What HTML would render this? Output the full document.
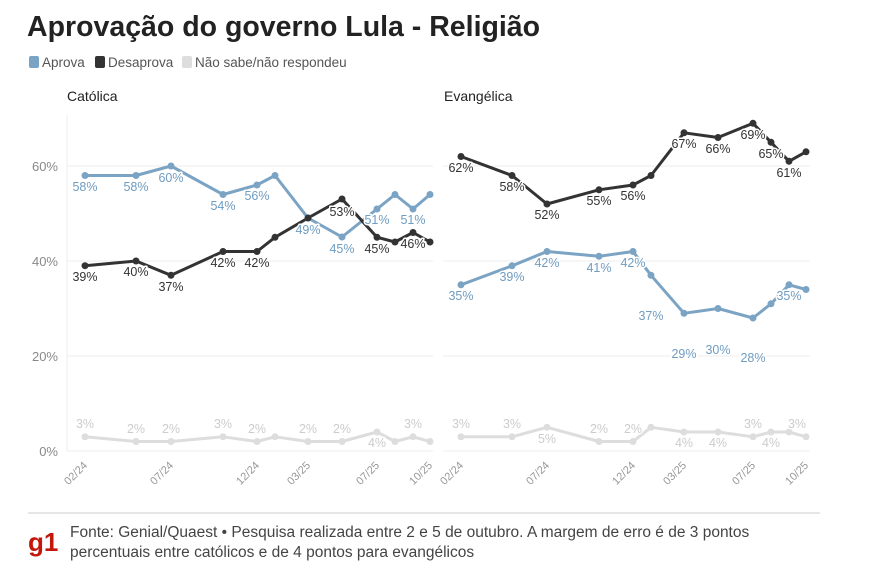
<!DOCTYPE html><html><head><meta charset="utf-8"><style>
body{margin:0;width:874px;height:580px;background:#fff;font-family:"Liberation Sans",sans-serif;overflow:hidden}
.h text{paint-order:stroke;stroke:#fff;stroke-width:3px;stroke-linejoin:round}
</style></head><body>
<svg width="874" height="580" xmlns="http://www.w3.org/2000/svg" font-family="Liberation Sans, sans-serif">
<text x="27" y="36" font-size="28.5" font-weight="bold" fill="#222">Aprovação do governo Lula - Religião</text>
<rect x="29" y="56" width="10" height="12" rx="2" fill="#7ba3c4"/><text x="42" y="67" font-size="13.5" fill="#555">Aprova</text>
<rect x="95" y="56" width="10" height="12" rx="2" fill="#333"/><text x="108" y="67" font-size="13.5" fill="#555">Desaprova</text>
<rect x="182" y="56" width="10" height="12" rx="2" fill="#ddd"/><text x="195" y="67" font-size="13.5" fill="#555">Não sabe/não respondeu</text>
<text x="67" y="101" font-size="14" fill="#222">Católica</text>
<text x="444" y="101" font-size="14" fill="#222">Evangélica</text>
<g stroke="#eee" stroke-width="1">
<line x1="67" y1="166" x2="433" y2="166"/><line x1="67" y1="261" x2="433" y2="261"/><line x1="67" y1="356" x2="433" y2="356"/><line x1="67" y1="451" x2="433" y2="451"/><line x1="67" y1="115" x2="67" y2="451"/>
<line x1="443" y1="166" x2="810" y2="166"/><line x1="443" y1="261" x2="810" y2="261"/><line x1="443" y1="356" x2="810" y2="356"/><line x1="443" y1="451" x2="810" y2="451"/>
</g>
<g font-size="13" fill="#888" text-anchor="end"><text x="58" y="171">60%</text><text x="58" y="266">40%</text><text x="58" y="361">20%</text><text x="58" y="456">0%</text></g>
<g font-size="11" fill="#999">
<text transform="translate(88,466) rotate(-45)" text-anchor="end">02/24</text>
<text transform="translate(174,466) rotate(-45)" text-anchor="end">07/24</text>
<text transform="translate(260,466) rotate(-45)" text-anchor="end">12/24</text>
<text transform="translate(311,466) rotate(-45)" text-anchor="end">03/25</text>
<text transform="translate(380,466) rotate(-45)" text-anchor="end">07/25</text>
<text transform="translate(433,466) rotate(-45)" text-anchor="end">10/25</text>
<text transform="translate(464,466) rotate(-45)" text-anchor="end">02/24</text>
<text transform="translate(550,466) rotate(-45)" text-anchor="end">07/24</text>
<text transform="translate(636,466) rotate(-45)" text-anchor="end">12/24</text>
<text transform="translate(687,466) rotate(-45)" text-anchor="end">03/25</text>
<text transform="translate(756,466) rotate(-45)" text-anchor="end">07/25</text>
<text transform="translate(809,466) rotate(-45)" text-anchor="end">10/25</text>
</g>
<g fill="none" stroke-width="3" stroke-linejoin="round">
<polyline stroke="#7ba3c4" points="85,175.5 136,175.5 171,166 223,194.5 257,185 275,175.5 308,218 342,237 377,209 395,194.5 413,209 430,194.5"/>
<polyline stroke="#333" points="85,265.7 136,261 171,275.3 223,251.5 257,251.5 275,237.3 308,218 342,199 377,237.3 395,242 413,232.5 430,242"/>
<polyline stroke="#ddd" points="85,436.8 136,441.5 171,441.5 223,436.8 257,441.5 275,436.8 308,441.5 342,441.5 377,432 395,441.5 413,436.8 430,441.5"/>
<polyline stroke="#7ba3c4" points="461,284.8 512,265.8 547,251.5 599,256.3 633,251.5 651,275.3 684,313.3 718,308.5 753,318 771,303.8 789,284.8 806,289.5"/>
<polyline stroke="#333" points="461,156.5 512,175.5 547,204 599,189.8 633,185 651,175.5 684,132.8 718,137.5 753,123.3 771,142.3 789,161.3 806,151.8"/>
<polyline stroke="#ddd" points="461,436.8 512,436.8 547,427.3 599,441.5 633,441.5 651,427.3 684,432 718,432 753,436.8 771,432 789,432 806,436.8"/>
</g>
<g fill="#7ba3c4"><circle cx="85" cy="175.5" r="3.5"/><circle cx="136" cy="175.5" r="3.5"/><circle cx="171" cy="166" r="3.5"/><circle cx="223" cy="194.5" r="3.5"/><circle cx="257" cy="185" r="3.5"/><circle cx="275" cy="175.5" r="3.5"/><circle cx="308" cy="218" r="3.5"/><circle cx="342" cy="237" r="3.5"/><circle cx="377" cy="209" r="3.5"/><circle cx="395" cy="194.5" r="3.5"/><circle cx="413" cy="209" r="3.5"/><circle cx="430" cy="194.5" r="3.5"/>
<circle cx="461" cy="284.8" r="3.5"/><circle cx="512" cy="265.8" r="3.5"/><circle cx="547" cy="251.5" r="3.5"/><circle cx="599" cy="256.3" r="3.5"/><circle cx="633" cy="251.5" r="3.5"/><circle cx="651" cy="275.3" r="3.5"/><circle cx="684" cy="313.3" r="3.5"/><circle cx="718" cy="308.5" r="3.5"/><circle cx="753" cy="318" r="3.5"/><circle cx="771" cy="303.8" r="3.5"/><circle cx="789" cy="284.8" r="3.5"/><circle cx="806" cy="289.5" r="3.5"/></g>
<g fill="#333"><circle cx="85" cy="265.7" r="3.5"/><circle cx="136" cy="261" r="3.5"/><circle cx="171" cy="275.3" r="3.5"/><circle cx="223" cy="251.5" r="3.5"/><circle cx="257" cy="251.5" r="3.5"/><circle cx="275" cy="237.3" r="3.5"/><circle cx="308" cy="218" r="3.5"/><circle cx="342" cy="199" r="3.5"/><circle cx="377" cy="237.3" r="3.5"/><circle cx="395" cy="242" r="3.5"/><circle cx="413" cy="232.5" r="3.5"/><circle cx="430" cy="242" r="3.5"/>
<circle cx="461" cy="156.5" r="3.5"/><circle cx="512" cy="175.5" r="3.5"/><circle cx="547" cy="204" r="3.5"/><circle cx="599" cy="189.8" r="3.5"/><circle cx="633" cy="185" r="3.5"/><circle cx="651" cy="175.5" r="3.5"/><circle cx="684" cy="132.8" r="3.5"/><circle cx="718" cy="137.5" r="3.5"/><circle cx="753" cy="123.3" r="3.5"/><circle cx="771" cy="142.3" r="3.5"/><circle cx="789" cy="161.3" r="3.5"/><circle cx="806" cy="151.8" r="3.5"/></g>
<g fill="#ddd"><circle cx="85" cy="436.8" r="3.5"/><circle cx="136" cy="441.5" r="3.5"/><circle cx="171" cy="441.5" r="3.5"/><circle cx="223" cy="436.8" r="3.5"/><circle cx="257" cy="441.5" r="3.5"/><circle cx="275" cy="436.8" r="3.5"/><circle cx="308" cy="441.5" r="3.5"/><circle cx="342" cy="441.5" r="3.5"/><circle cx="377" cy="432" r="3.5"/><circle cx="395" cy="441.5" r="3.5"/><circle cx="413" cy="436.8" r="3.5"/><circle cx="430" cy="441.5" r="3.5"/>
<circle cx="461" cy="436.8" r="3.5"/><circle cx="512" cy="436.8" r="3.5"/><circle cx="547" cy="427.3" r="3.5"/><circle cx="599" cy="441.5" r="3.5"/><circle cx="633" cy="441.5" r="3.5"/><circle cx="651" cy="427.3" r="3.5"/><circle cx="684" cy="432" r="3.5"/><circle cx="718" cy="432" r="3.5"/><circle cx="753" cy="436.8" r="3.5"/><circle cx="771" cy="432" r="3.5"/><circle cx="789" cy="432" r="3.5"/><circle cx="806" cy="436.8" r="3.5"/></g>
<g class="h" font-size="12.5" text-anchor="middle" fill="#6f9cc1">
<text x="85" y="191">58%</text><text x="136" y="191">58%</text><text x="171" y="182">60%</text><text x="223" y="210">54%</text><text x="257" y="200">56%</text><text x="308" y="234">49%</text><text x="342" y="253">45%</text><text x="377" y="224">51%</text><text x="413" y="224">51%</text>
<text x="461" y="300">35%</text><text x="512" y="281">39%</text><text x="547" y="267">42%</text><text x="599" y="272">41%</text><text x="633" y="267">42%</text><text x="651" y="320">37%</text><text x="684" y="358">29%</text><text x="718" y="354">30%</text><text x="753" y="362">28%</text><text x="789" y="300">35%</text>
</g>
<g class="h" font-size="12.5" text-anchor="middle" fill="#333">
<text x="85" y="281">39%</text><text x="136" y="276">40%</text><text x="171" y="291">37%</text><text x="223" y="267">42%</text><text x="257" y="267">42%</text><text x="342" y="216">53%</text><text x="377" y="253">45%</text><text x="413" y="248">46%</text>
<text x="461" y="172">62%</text><text x="512" y="191">58%</text><text x="547" y="219">52%</text><text x="599" y="205">55%</text><text x="633" y="200">56%</text><text x="684" y="148">67%</text><text x="718" y="153">66%</text><text x="753" y="139">69%</text><text x="771" y="158">65%</text><text x="789" y="177">61%</text>
</g>
<g class="h" font-size="12.5" text-anchor="middle" fill="#ccc">
<text x="85" y="428">3%</text><text x="136" y="433">2%</text><text x="171" y="433">2%</text><text x="223" y="428">3%</text><text x="257" y="433">2%</text><text x="308" y="433">2%</text><text x="342" y="433">2%</text><text x="377" y="447">4%</text><text x="413" y="428">3%</text>
<text x="461" y="428">3%</text><text x="512" y="428">3%</text><text x="547" y="443">5%</text><text x="599" y="433">2%</text><text x="633" y="433">2%</text><text x="684" y="447">4%</text><text x="718" y="447">4%</text><text x="753" y="428">3%</text><text x="771" y="447">4%</text><text x="797" y="428">3%</text>
</g>
<line x1="28" y1="513" x2="820" y2="513" stroke="#ccc" stroke-width="1"/>
<text x="28" y="551" font-size="26" font-weight="bold" fill="#c4170c">g1</text>
<text x="70" y="537" font-size="15.5" fill="#444">Fonte: Genial/Quaest • Pesquisa realizada entre 2 e 5 de outubro. A margem de erro é de 3 pontos</text>
<text x="70" y="557" font-size="15.5" fill="#444">percentuais entre católicos e de 4 pontos para evangélicos</text>
</svg>
</body></html>
